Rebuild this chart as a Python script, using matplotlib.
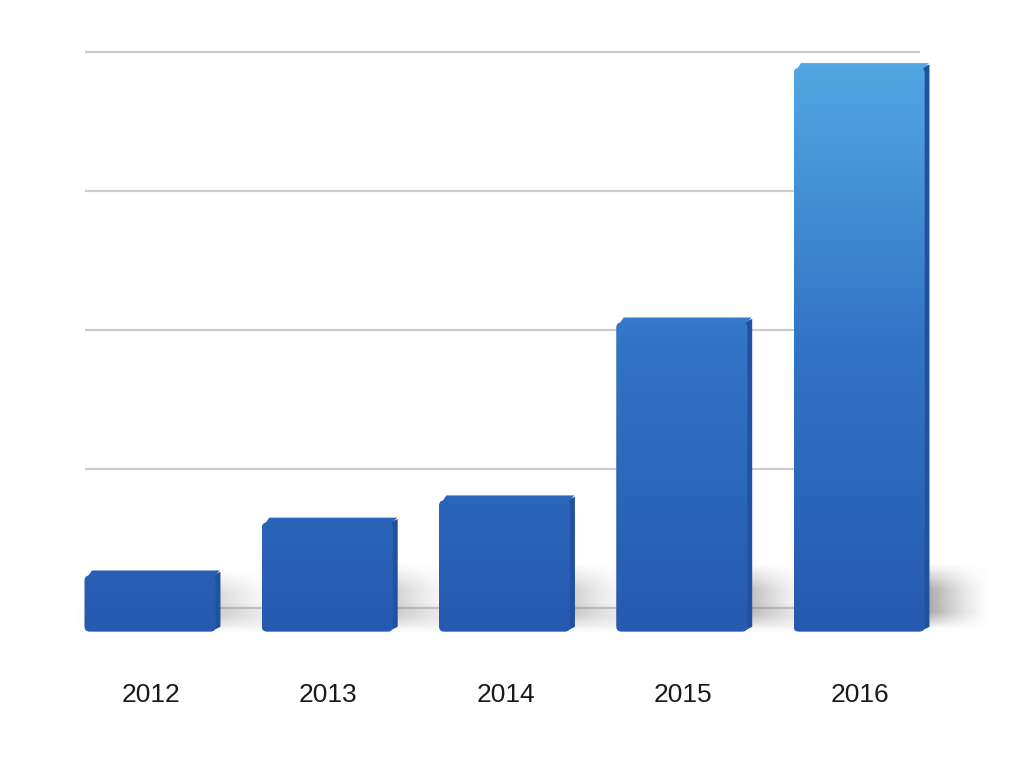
import numpy as np
import matplotlib.pyplot as plt
from matplotlib.patches import FancyBboxPatch, Polygon
from matplotlib.colors import LinearSegmentedColormap

years = ['2012', '2013', '2014', '2015', '2016']
values = [0.27, 0.65, 0.81, 2.09, 3.92]

floor = -0.17      # front edge of the 3D floor
bar_w = 0.75
dx, dy = 0.022, 0.035   # depth of side / top faces

fig = plt.figure(figsize=(10.24, 7.6), dpi=100)
ax = fig.add_axes([65 / 1024, 110 / 760, 935 / 1024, 620 / 760])
ax.set_xlim(-0.485, 4.79)
ax.set_ylim(-0.302, 4.158)
ax.axis('off')

# back wall gridlines
ax.hlines([0, 1, 2, 3, 4], -0.372, 4.34, color='#cbcbcb', lw=1.6, zorder=0)

# soft floor shadow band
band = np.zeros((40, 60, 4))
band[..., :3] = 0.5
vy = np.sin(np.linspace(0, np.pi, 40))[:, None]
vx = np.clip(np.linspace(0, 1, 60) * 12, 0, 1)[None, :] * np.clip((1 - np.linspace(0, 1, 60)) * 6, 0, 1)[None, :]
band[..., 3] = 0.12 * vy * vx
ax.imshow(band, extent=(-0.485, 4.75, floor - 0.02, 0.04), origin='upper',
          aspect='auto', zorder=1, interpolation='bilinear')

cmap = LinearSegmentedColormap.from_list('bar', ['#2659b0', '#3174c6', '#52a8e2'])
grad = np.linspace(0, 1, 256)[:, None]

for i, v in enumerate(values):
    x0, x1 = i - bar_w / 2, i + bar_w / 2

    # cast shadow to the right of each bar
    sh_top = min(v, 0.32)
    strength = 0.25 + 0.1 * min(v, 4)
    sh = np.zeros((50, 60, 4))
    sh[..., :3] = 0.45
    tx = np.linspace(1, 0, 60)[None, :] ** 1.5
    ty = np.clip(np.linspace(0, 1, 50)[:, None] * 2.5, 0, 1) * np.clip(np.linspace(1, 0, 50)[:, None] * 4, 0, 1)
    sh[..., 3] = strength * tx * ty
    ax.imshow(sh, extent=(x1, x1 + 0.38, floor + 0.02, sh_top), origin='upper',
              aspect='auto', zorder=2, interpolation='bilinear')

    front_top = v - dy
    # side face
    side = Polygon([(x1 - 0.03, floor + 0.005), (x1 + dx - 0.005, floor + dy),
                    (x1 + dx - 0.005, v - 0.01), (x1 - 0.03, front_top)],
                   closed=True, fc='#22529f', ec='none', zorder=3)
    ax.add_patch(side)
    # top face
    top = Polygon([(x0 + 0.012, front_top - 0.02), (x0 + dx + 0.02, v),
                   (x1 + dx - 0.008, v), (x1 - 0.03, front_top - 0.02)],
                  closed=True, fc=cmap(min(1, (v - floor) / 4.1)),
                  ec='none', zorder=3)
    ax.add_patch(top)

    # front face with vertical gradient
    patch = FancyBboxPatch((x0, floor), bar_w - 0.01, front_top - floor,
                           boxstyle='round,pad=0,rounding_size=0.03',
                           mutation_aspect=1.275, fc='none', ec='none', zorder=4)
    ax.add_patch(patch)
    im = ax.imshow(grad, cmap=cmap, vmin=0, vmax=1, origin='lower',
                   extent=(x0, x1, floor, 3.93), aspect='auto', zorder=4)
    im.set_clip_path(patch)

for i, y in enumerate(years):
    ax.text(i, -0.625, y, ha='center', va='center', fontsize=19,
            family=['Liberation Sans Narrow', 'Liberation Sans', 'DejaVu Sans'],
            color='#1a1a1a')

fig.savefig('out.png', dpi=100, facecolor='white')
